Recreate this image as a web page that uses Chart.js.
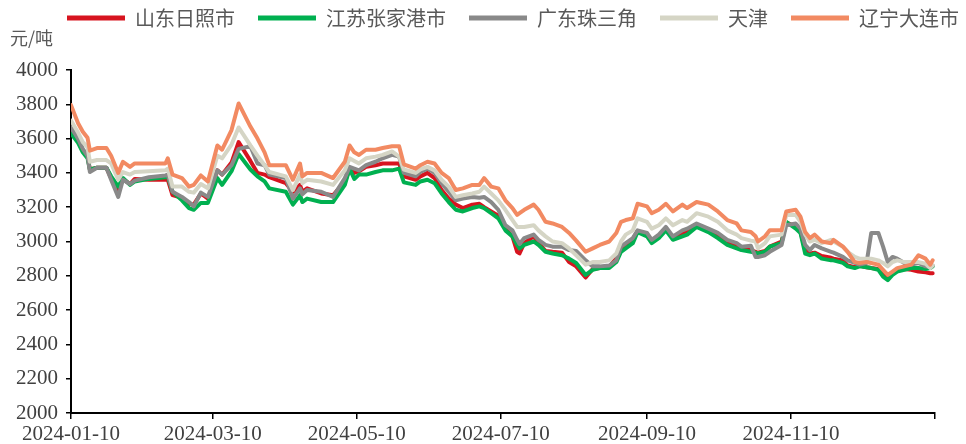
<!DOCTYPE html>
<html lang="zh-CN">
<head>
  <meta charset="UTF-8" />
  <title>港口价格走势</title>
  <script src="https://cdn.jsdelivr.net/npm/chart.js"></script>
  <style>
    body { margin: 0; background: #fff; }
    canvas { display: block; }
  </style>
</head>
<body>
  <canvas id="chart" width="966" height="444"></canvas>
  <script>
    // sampled dates (x values)
    const dates = [
      '2024-01-10','2024-01-13','2024-01-15','2024-01-17','2024-01-18','2024-01-21','2024-01-25','2024-01-27','2024-01-30','2024-02-01',
      '2024-02-04','2024-02-06','2024-02-12','2024-02-19','2024-02-20','2024-02-22','2024-02-26','2024-02-29','2024-03-02','2024-03-05',
      '2024-03-08','2024-03-12','2024-03-14','2024-03-18','2024-03-21','2024-03-26','2024-03-29','2024-04-01','2024-04-03','2024-04-10',
      '2024-04-13','2024-04-16','2024-04-17','2024-04-19','2024-04-25','2024-04-30','2024-05-05','2024-05-07','2024-05-09','2024-05-11',
      '2024-05-14','2024-05-18','2024-05-21','2024-05-25','2024-05-28','2024-05-30','2024-06-04','2024-06-06','2024-06-09','2024-06-12',
      '2024-06-15','2024-06-18','2024-06-21','2024-06-24','2024-06-28','2024-07-01','2024-07-03','2024-07-06','2024-07-09','2024-07-12',
      '2024-07-15','2024-07-17','2024-07-18','2024-07-20','2024-07-24','2024-07-26','2024-07-29','2024-08-01','2024-08-05','2024-08-08',
      '2024-08-11','2024-08-15','2024-08-18','2024-08-21','2024-08-25','2024-08-28','2024-08-30','2024-09-01','2024-09-04','2024-09-06',
      '2024-09-10','2024-09-12','2024-09-15','2024-09-18','2024-09-21','2024-09-25','2024-09-27','2024-10-01','2024-10-06','2024-10-10',
      '2024-10-14','2024-10-18','2024-10-20','2024-10-24','2024-10-26','2024-10-27','2024-10-30','2024-11-01','2024-11-06','2024-11-08',
      '2024-11-12','2024-11-14','2024-11-16','2024-11-18','2024-11-20','2024-11-23','2024-11-27','2024-11-28','2024-12-02','2024-12-04',
      '2024-12-07','2024-12-09','2024-12-12','2024-12-14','2024-12-17','2024-12-19','2024-12-21','2024-12-23','2024-12-25','2024-12-28',
      '2024-12-31','2025-01-03','2025-01-06','2025-01-08','2025-01-09'
    ];

    const shandong = [
      3655,3590,3530,3500,3420,3430,3430,3370,3300,3365,
      3335,3365,3360,3360,3360,3270,3255,3220,3215,3280,
      3250,3415,3390,3460,3580,3470,3400,3390,3375,3340,
      3290,3330,3290,3310,3280,3270,3350,3420,3400,3410,
      3435,3445,3455,3455,3455,3380,3360,3380,3400,3370,
      3300,3250,3215,3195,3215,3220,3200,3175,3150,3075,
      3030,2940,2930,2990,3030,2990,2945,2940,2935,2880,
      2855,2790,2840,2845,2850,2905,2960,2985,3015,3060,
      3040,3005,3030,3070,3020,3050,3060,3090,3065,3035,
      2995,2975,2955,2950,2940,2935,2945,2970,3000,3110,
      3090,3060,2950,2930,2935,2915,2905,2900,2890,2860,
      2850,2860,2850,2845,2840,2810,2790,2815,2830,2840,
      2835,2825,2820,2815,2815
    ];
    const jiangsu = [
      3630,3575,3520,3485,3420,3430,3430,3380,3320,3370,
      3330,3350,3365,3375,3380,3290,3240,3195,3185,3225,
      3225,3370,3330,3410,3510,3420,3380,3350,3310,3290,
      3215,3270,3230,3250,3230,3230,3330,3425,3365,3390,
      3390,3405,3415,3415,3425,3345,3330,3350,3360,3340,
      3280,3230,3185,3175,3195,3205,3195,3165,3135,3065,
      3030,2980,2960,2980,3000,2980,2940,2930,2920,2900,
      2875,2805,2835,2845,2845,2880,2940,2960,2990,3055,
      3030,2990,3020,3065,3010,3030,3040,3085,3055,3020,
      2980,2960,2950,2940,2935,2930,2940,2970,2990,3115,
      3075,3050,2930,2920,2930,2900,2890,2890,2875,2855,
      2845,2855,2850,2845,2835,2795,2775,2805,2825,2835,
      2845,2845,2840,2845,2855
    ];
    const guangdong = [
      3665,3600,3540,3500,3405,3430,3430,3360,3260,3360,
      3335,3355,3375,3385,3390,3290,3260,3230,3205,3285,
      3260,3415,3390,3445,3540,3555,3455,3445,3390,3370,
      3250,3310,3275,3300,3290,3260,3370,3435,3425,3415,
      3445,3465,3485,3505,3495,3400,3380,3405,3425,3400,
      3340,3290,3240,3250,3260,3255,3260,3230,3185,3095,
      3065,3010,2985,3020,3040,3010,2980,2970,2970,2950,
      2945,2890,2855,2855,2860,2890,2970,2990,3020,3065,
      3050,3010,3040,3085,3030,3065,3075,3105,3075,3050,
      3010,2990,2970,2975,2910,2910,2920,2940,2980,3095,
      3105,3075,2980,2950,2980,2960,2940,2935,2910,2890,
      2875,2865,2875,3050,3050,2970,2880,2910,2900,2875,
      2865,2875,2855,2850,2860
    ];
    const tianjin = [
      3705,3635,3580,3550,3465,3475,3475,3455,3360,3405,
      3390,3405,3410,3415,3425,3320,3320,3290,3285,3335,
      3310,3500,3485,3565,3665,3560,3500,3445,3405,3380,
      3300,3390,3340,3360,3350,3330,3415,3485,3470,3455,
      3485,3495,3505,3525,3495,3420,3400,3420,3435,3415,
      3360,3320,3260,3270,3280,3290,3320,3280,3240,3185,
      3125,3085,3085,3085,3095,3065,3030,3000,2990,2960,
      2920,2865,2880,2880,2890,2930,3000,3040,3065,3135,
      3115,3075,3095,3135,3095,3125,3115,3165,3145,3115,
      3065,3040,3020,3005,3000,2960,2990,3030,3040,3155,
      3155,3115,3040,3000,3010,2990,3010,3000,2970,2940,
      2910,2900,2900,2900,2890,2875,2855,2880,2890,2880,
      2880,2880,2870,2845,2860
    ];
    const dalian = [
      3795,3690,3640,3605,3530,3545,3545,3500,3400,3465,
      3435,3455,3455,3455,3485,3390,3370,3320,3330,3385,
      3350,3560,3535,3650,3805,3670,3600,3520,3445,3445,
      3360,3455,3380,3400,3400,3370,3465,3560,3520,3505,
      3535,3535,3545,3555,3555,3450,3425,3445,3465,3455,
      3400,3370,3300,3310,3330,3330,3370,3320,3310,3240,
      3195,3155,3165,3185,3215,3185,3115,3105,3085,3050,
      3005,2940,2960,2980,3000,3050,3115,3125,3135,3220,
      3205,3165,3185,3220,3175,3215,3195,3230,3215,3175,
      3125,3105,3065,3055,3030,3000,3030,3065,3065,3175,
      3185,3145,3055,3020,3040,3000,2990,3010,2970,2940,
      2880,2875,2880,2875,2865,2835,2805,2825,2845,2855,
      2865,2920,2900,2865,2890
    ];

    const seriesNames = ['山东日照市', '江苏张家港市', '广东珠三角', '天津', '辽宁大连市'];
    const xTickLabels = ['2024-01-10', '2024-03-10', '2024-05-10', '2024-07-10', '2024-09-10', '2024-11-10'];
    const xAxisEnd = '2025-01-10';

    function dayOf(s) {
      const [y, m, d] = s.split('-').map(Number);
      return (Date.UTC(y, m - 1, d) - Date.UTC(2024, 0, 10)) / 86400000;
    }

    const seriesValues = [shandong, jiangsu, guangdong, tianjin, dalian];
    const colors = ['#d7141f', '#00b050', '#898989', '#d5d5c5', '#f28a62'];
    const labelFont = { family: '"Noto Sans CJK SC", sans-serif', size: 20 };
    const tickFont = { family: '"Liberation Serif", serif', size: 21 };

    const datasets = seriesNames.map((name, i) => ({
      label: name,
      data: seriesValues[i].map((v, j) => ({ x: dayOf(dates[j]), y: v })),
      borderColor: colors[i],
      backgroundColor: colors[i],
      borderWidth: 4,
      borderJoinStyle: 'round',
      borderCapStyle: 'round',
      pointRadius: 0,
      tension: 0,
      order: seriesNames.length - i   // last series drawn on top
    }));

    const tickLabelByDay = {};
    xTickLabels.forEach(d => { tickLabelByDay[dayOf(d)] = d; });

    new Chart(document.getElementById('chart'), {
      type: 'line',
      data: { datasets },
      options: {
        responsive: false,
        animation: false,
        devicePixelRatio: 1,
        layout: { padding: { top: -15, left: 10, right: -50, bottom: 0 } },
        plugins: {
          legend: {
            position: 'top',
            align: 'center',
            labels: {
              usePointStyle: true,
              pointStyle: 'line',
              pointStyleWidth: 58,
              padding: 23,
              color: '#595959',
              font: labelFont,
              sort: (a, b) => a.datasetIndex - b.datasetIndex,
              generateLabels: chart => Chart.defaults.plugins.legend.labels.generateLabels(chart)
                .map(item => Object.assign(item, { lineWidth: 5 }))
            }
          },
          subtitle: {
            display: true,
            text: '元/吨',
            position: 'top',
            align: 'start',
            weight: 500,
            color: '#595959',
            font: { family: labelFont.family, size: 18, weight: 'normal', lineHeight: 1 },
            padding: { top: -9, bottom: 23 }
          },
          tooltip: { enabled: false }
        },
        scales: {
          x: {
            type: 'linear',
            min: 0,
            max: dayOf(xAxisEnd),
            afterBuildTicks: s => {
              s.ticks = xTickLabels.concat([xAxisEnd]).map(d => ({ value: dayOf(d) }));
            },
            afterFit: s => { s.height = 31; s.paddingRight = 31; },
            ticks: {
              autoSkip: false,
              maxRotation: 0,
              minRotation: 0,
              padding: 3,
              color: '#404040',
              font: tickFont,
              callback: v => tickLabelByDay[v] || ''
            },
            grid: { drawOnChartArea: false, tickLength: 6, color: '#000', lineWidth: 1.5 },
            border: { color: '#000', width: 2 }
          },
          y: {
            min: 2000,
            max: 4000,
            afterFit: s => { s.width = 61; },
            ticks: {
              stepSize: 200,
              padding: 8,
              color: '#404040',
              font: tickFont,
              callback: v => String(v)
            },
            grid: { drawOnChartArea: false, tickLength: 5, color: '#000', lineWidth: 1.5 },
            border: { color: '#000', width: 2 }
          }
        }
      }
    });
  </script>
</body>
</html>
